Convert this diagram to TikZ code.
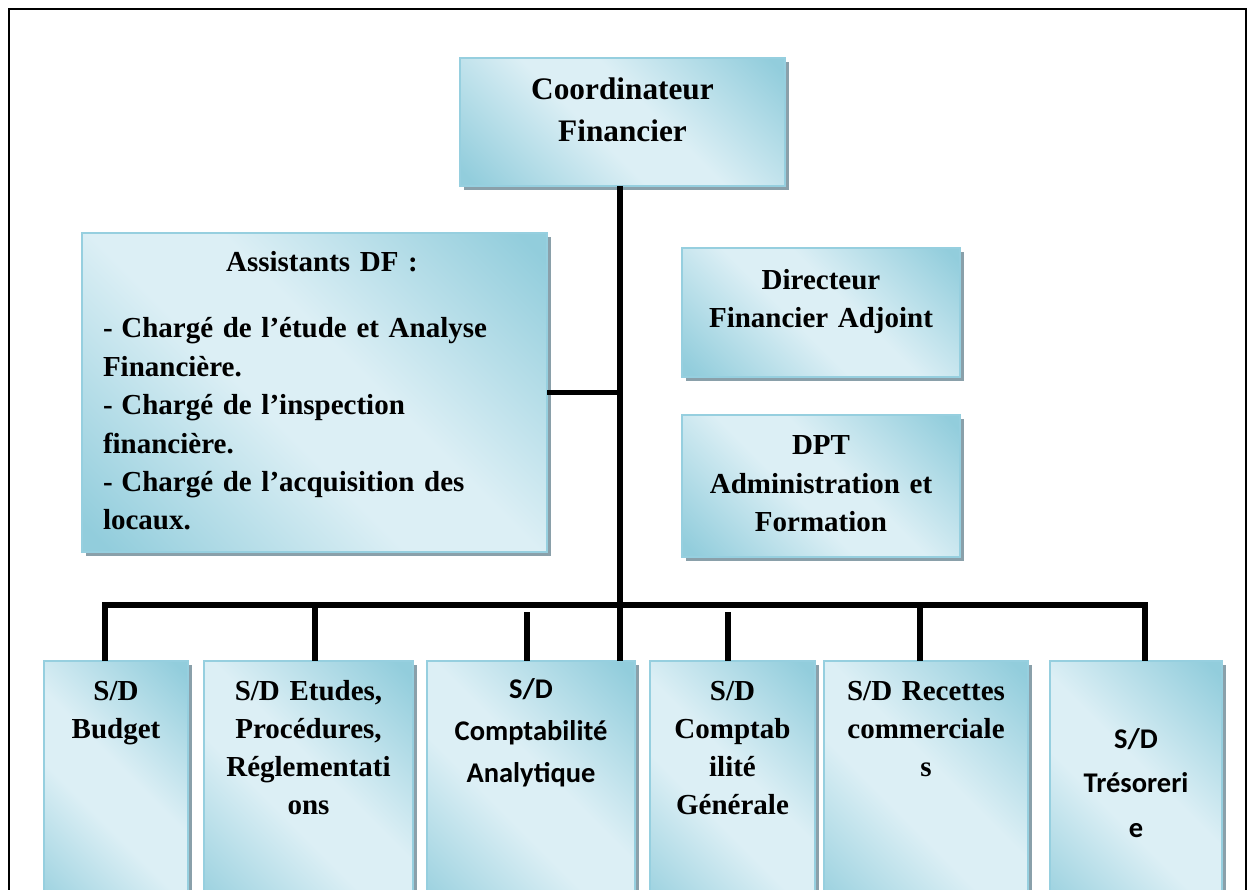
\documentclass[tikz,border=0pt]{standalone}
\usepackage{fontspec}
\setmainfont{Liberation Serif}
\newfontfamily\calfont{Carlito}
\usetikzlibrary{shadows,calc}

\definecolor{boxdark}{RGB}{146,205,220}
\definecolor{boxlight}{RGB}{220,239,245}
\definecolor{boxedge}{RGB}{150,207,223}
\definecolor{boxshadow}{RGB}{138,160,170}

% diagonal light band between two darker corners
\pgfdeclarehorizontalshading{orgfill}{100bp}{color(0bp)=(boxdark); color(17bp)=(boxdark); color(44bp)=(boxlight); color(56bp)=(boxlight); color(83bp)=(boxdark); color(100bp)=(boxdark)}

\tikzset{
  unitbox/.style={draw=boxedge, line width=1.5pt, shading=orgfill, shading angle=45,
    general shadow={fill=boxshadow, shadow xshift=4pt, shadow yshift=-4pt},
    inner sep=0pt, outer sep=0pt, anchor=north west},
  link/.style={line width=5.5pt, line join=miter, black},
  serifbold/.style={font=\bfseries\fontsize{29}{#1}\selectfont},
  calbold/.style={font=\calfont\bfseries\fontsize{28.5}{#1}\selectfont},
  label/.style={inner sep=0pt, outer sep=0pt, text width=300pt, align=center, anchor=base}
}

\begin{document}
\begin{tikzpicture}[x=1pt, y=-1pt]
\useasboundingbox (0,0) rectangle (1248,890);
\clip (0,0) rectangle (1248,890);

% page frame
\draw[line width=2pt] (9,900) -- (9,9) -- (1246,9) -- (1246,900);

% junction points of the connector tree
\coordinate (hub) at (620,605);
\coordinate (busL) at (105,605);
\coordinate (busR) at (1145,605);
\coordinate (dEt) at (315,605);
\coordinate (dAn) at (527,612);
\coordinate (dGe) at (728,612);
\coordinate (dRe) at (920,605);

% boxes
\path
  (460,58)  node[unitbox, minimum width=325pt, minimum height=128pt] (coord) {}
  (82,233)  node[unitbox, minimum width=465pt, minimum height=319pt] (assist) {}
  (682,248) node[unitbox, minimum width=278pt, minimum height=129pt] (direct) {}
  (682,415) node[unitbox, minimum width=278pt, minimum height=142pt] (dpt) {}
  (44,661)   node[unitbox, minimum width=144pt, minimum height=275pt] (budget) {}
  (204,661)  node[unitbox, minimum width=209pt, minimum height=275pt] (etudes) {}
  (427,661)  node[unitbox, minimum width=208pt, minimum height=275pt] (analyt) {}
  (650,661)  node[unitbox, minimum width=165pt, minimum height=275pt] (generale) {}
  (824,661)  node[unitbox, minimum width=204pt, minimum height=275pt] (recettes) {}
  (1050,661) node[unitbox, minimum width=172pt, minimum height=275pt] (tresor) {};

% connectors
\draw[link] (hub |- coord.south) -- (hub |- analyt.north);
\draw[link] (assist.east) -- (assist.east -| hub);
\draw[link] (busL |- budget.north) -- (busL) -- (busR) -- (busR |- tresor.north);
\draw[link] (dEt) -- (dEt |- etudes.north);
\draw[link] (dAn) -- (dAn |- analyt.north);
\draw[link] (dGe) -- (dGe |- generale.north);
\draw[link] (dRe) -- (dRe |- recettes.north);

% texts
\node[label, font=\bfseries\fontsize{31.3}{42}\selectfont] (coordT) at (622.5,100) {Coordinateur\\Financier};

\node[label, serifbold=38.4] (assistT) at (322,272) {Assistants DF :};
\node[inner sep=0pt, outer sep=0pt, text width=440pt, align=left, anchor=base west, serifbold=38.4] (assistL) at (103,338)
  {-\hspace{0.3em}Chargé de l’étude et Analyse\\
   Financière.\\
   -\hspace{0.3em}Chargé de l’inspection\\
   financière.\\
   -\hspace{0.3em}Chargé de l’acquisition des\\
   locaux.};

\node[label, serifbold=37.5] (directT) at (821,290) {Directeur\\Financier Adjoint};
\node[label, serifbold=38.5] (dptT) at (821,455) {DPT\\Administration et\\Formation};

\node[label, serifbold=38.3] (budgetT) at (116,700) {S/D\\Budget};
\node[label, serifbold=38.3] (etudesT) at (308.5,700) {S/D Etudes,\\Procédures,\\Réglementati\\ons};
\node[label, calbold=42] (analytT) at (531,698) {S/D\\Comptabilité\\Analytique};
\node[label, serifbold=38.3] (generaleT) at (732.5,700) {S/D\\Comptab\\ilité\\Générale};
\node[label, serifbold=38.3] (recettesT) at (926,700) {S/D Recettes\\commerciale\\s};
\node[label, calbold=44.5] (tresorT) at (1136,748) {S/D\\Trésoreri\\e};
\end{tikzpicture}
\end{document}
